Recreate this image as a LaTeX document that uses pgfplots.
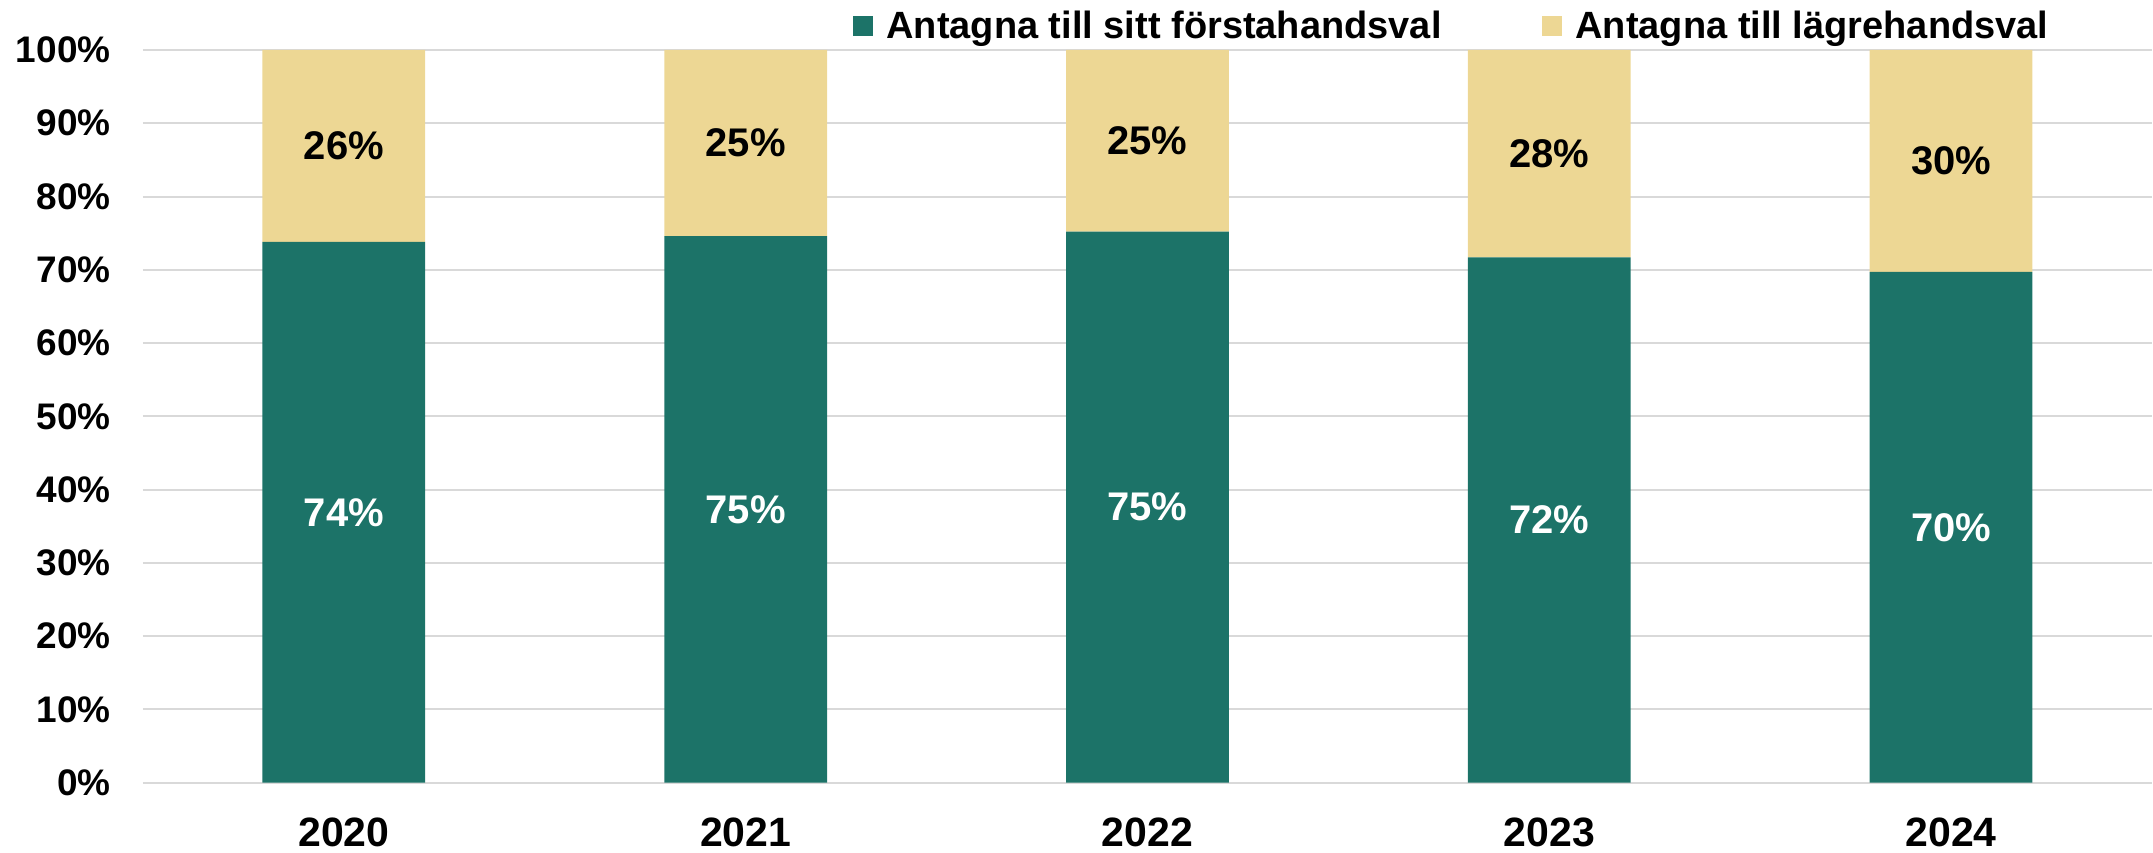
\documentclass[border=0pt]{standalone}
\usepackage{pgfplots}
\pgfplotsset{compat=1.18}
\usepackage{fontspec}
\setmainfont{Liberation Sans}
\definecolor{cgreen}{HTML}{1C7368}
\definecolor{ctan}{HTML}{EDD794}
\definecolor{cgrid}{HTML}{D9D9D9}
\pgfplotsset{
  common/.style={
    scale only axis, width=1005pt, height=366.5pt,
    xmin=-0.5, xmax=4.5, ymin=0, ymax=100,
  }
}
\begin{document}
\begin{tikzpicture}
\begin{axis}[
  common,
  ybar stacked, bar width=0.405,
  axis line style={draw=none},
  major tick length=0pt,
  xtick={0,1,2,3,4}, xticklabels={2020,2021,2022,2023,2024},
  ytick={0,10,20,30,40,50,60,70,80,90,100},
  yticklabels={0\%,10\%,20\%,30\%,40\%,50\%,60\%,70\%,80\%,90\%,100\%},
  ymajorgrids, grid style={cgrid, line width=1pt},
  xticklabel style={font=\fontsize{20.5}{24}\selectfont\bfseries, anchor=center, inner sep=0pt, yshift=-25pt},
  yticklabel style={font=\fontsize{18.5}{22}\selectfont\bfseries, anchor=east, inner sep=0pt, xshift=-16pt},
  legend style={at={(0.353,1.0327)}, anchor=west, draw=none, fill=none, inner sep=0pt,
    font=\fontsize{19}{22}\selectfont\bfseries, legend columns=2,
    /tikz/every odd column/.append style={column sep=5pt},
    /tikz/every even column/.append style={column sep=48pt}},
  legend image code/.code={\fill[#1] (0pt,-5pt) rectangle (10pt,5pt);},
]
\addplot[fill=cgreen, draw=none] coordinates {(0,73.8) (1,74.6) (2,75.2) (3,71.7) (4,69.7)};
\addplot[fill=ctan, draw=none] coordinates {(0,26.2) (1,25.4) (2,24.8) (3,28.3) (4,30.3)};
\legend{Antagna till sitt förstahandsval, Antagna till lägrehandsval}
\end{axis}
\begin{axis}[
  common, hide axis,
  /pgf/number format/assume math mode=true,
  nodes near coords={\pgfmathprintnumber[fixed,precision=0,assume math mode=true]{\pgfplotspointmeta}\%},
  point meta=explicit,
  every node near coord/.append style={anchor=center, font=\fontsize{20}{24}\selectfont\bfseries},
]
\addplot[draw=none, mark=none, every node near coord/.append style={text=white}] table[meta=m] {
x y m
0 36.9 74
1 37.3 75
2 37.6 75
3 35.85 72
4 34.85 70
};
\addplot[draw=none, mark=none, every node near coord/.append style={text=black}] table[meta=m] {
x y m
0 86.9 26
1 87.3 25
2 87.6 25
3 85.85 28
4 84.85 30
};
\end{axis}
\path ([xshift=-71.5pt,yshift=-35pt]current axis.south west) rectangle ([yshift=25pt]current axis.north east);
\end{tikzpicture}
\end{document}
